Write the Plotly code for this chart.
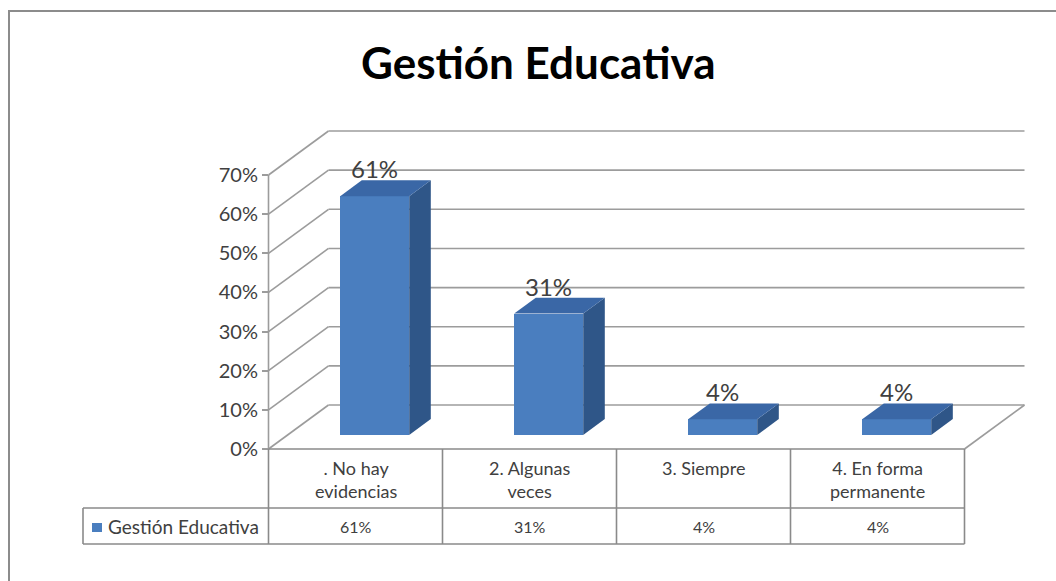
import plotly.graph_objects as go

# ---- data ----
categories = [". No hay<br>evidencias", "2. Algunas<br>veces", "3. Siempre", "4. En forma<br>permanente"]
values = [61, 31, 4, 4]
series_name = "Gestión Educativa"
title_text = "Gestión Educativa"
y_ticks = [0, 10, 20, 30, 40, 50, 60, 70]

# ---- geometry of the pseudo-3D frame ----
W, H = 1056, 581
PX_PER_CAT = 174.0      # width of one category column
X0_PX = 268.5           # left edge of the category axis
PX_PER_PCT = 3.914      # vertical pixels per percentage point
Y0_PX = 449.0           # baseline (0%) on the front plane


def xd(px):
    return (px - X0_PX) / PX_PER_CAT - 0.5


def yd(py):
    return (Y0_PX - py) / PX_PER_PCT


KX = 60.0 / PX_PER_CAT          # depth of the walls, along x
KY = 44.0 / PX_PER_PCT          # depth of the walls, along y
D0, D1 = 0.32, 0.68             # bar occupies this slice of the depth
BAR_W = 69.0 / PX_PER_CAT

XL, XR = -0.5, len(values) - 0.5

FRONT = "#4a7ebf"
SIDE = "#2f5688"
TOP = "#3a67a6"
GRID = "#9c9c9c"
TEXT = "#404040"
FONT = "Lato"

fig = go.Figure()

# front faces of the columns
bar_x = [i + D0 * KX for i in range(len(values))]
fig.add_trace(go.Bar(
    x=bar_x, y=values, base=D0 * KY, width=BAR_W,
    marker=dict(color=FRONT, line=dict(width=0)),
    showlegend=False, hoverinfo="skip",
))

# side and top faces
dd = D1 - D0
for xc, v in zip(bar_x, values):
    xl, xr = xc - BAR_W / 2, xc + BAR_W / 2
    b = D0 * KY
    t = b + v
    fig.add_trace(go.Scatter(
        x=[xr, xr + dd * KX, xr + dd * KX, xr, xr],
        y=[b, b + dd * KY, t + dd * KY, t, b],
        fill="toself", fillcolor=SIDE, mode="lines", line=dict(width=0),
        showlegend=False, hoverinfo="skip",
    ))
    fig.add_trace(go.Scatter(
        x=[xl, xr, xr + dd * KX, xl + dd * KX, xl],
        y=[t, t, t + dd * KY, t + dd * KY, t],
        fill="toself", fillcolor=TOP, mode="lines", line=dict(width=0),
        showlegend=False, hoverinfo="skip",
    ))
    fig.add_annotation(
        x=xc, y=t + dd * KY, text=f"{v}%", showarrow=False,
        yanchor="bottom", yshift=-5, font=dict(family=FONT, size=24, color=TEXT),
    )

shapes = []
grid_line = dict(color=GRID, width=1.6)

# back wall gridlines and left wall diagonals
for v in y_ticks:
    shapes.append(dict(type="line", xref="x", yref="y", layer="below",
                       x0=XL + KX, y0=v + KY, x1=XR + KX, y1=v + KY, line=grid_line))
    shapes.append(dict(type="line", xref="x", yref="y", layer="below",
                       x0=XL, y0=v, x1=XL + KX, y1=v + KY, line=grid_line))
# floor right edge
shapes.append(dict(type="line", xref="x", yref="y", layer="below",
                   x0=XR, y0=0, x1=XR + KX, y1=KY, line=grid_line))
# vertical value axis
shapes.append(dict(type="line", xref="x", yref="y", layer="below",
                   x0=XL, y0=0, x1=XL, y1=max(y_ticks), line=grid_line))

# data table
tbl = dict(color="#8a8a8a", width=1.6)
row1 = yd(508)
row2 = yd(544)
legend_left = xd(83)
shapes.append(dict(type="line", xref="x", yref="y", x0=XL, y0=0, x1=XR, y1=0, line=tbl))
shapes.append(dict(type="line", xref="x", yref="y", x0=legend_left, y0=row1, x1=XR, y1=row1, line=tbl))
shapes.append(dict(type="line", xref="x", yref="y", x0=legend_left, y0=row2, x1=XR, y1=row2, line=tbl))
shapes.append(dict(type="line", xref="x", yref="y", x0=legend_left, y0=row1, x1=legend_left, y1=row2, line=tbl))
for k in range(len(values) + 1):
    shapes.append(dict(type="line", xref="x", yref="y",
                       x0=XL + k, y0=0, x1=XL + k, y1=row2, line=tbl))
# legend key
shapes.append(dict(type="rect", xref="x", yref="y", x0=xd(92), x1=xd(102),
                   y0=yd(532), y1=yd(523), fillcolor=FRONT, line=dict(width=0)))

# outer chart border
shapes.append(dict(type="rect", xref="paper", yref="paper",
                   x0=9 / W, x1=1.05, y0=-0.05, y1=1 - 11 / H,
                   line=dict(color="#8c8c8c", width=2), fillcolor="rgba(0,0,0,0)"))

for i, cat in enumerate(categories):
    fig.add_annotation(x=i, y=yd(455), text=cat, showarrow=False, yanchor="top",
                       font=dict(family=FONT, size=18, color=TEXT))
    fig.add_annotation(x=i, y=(row1 + row2) / 2, text=f"{values[i]}%", showarrow=False,
                       yanchor="middle", font=dict(family=FONT, size=16, color=TEXT))
fig.add_annotation(x=xd(106), y=(row1 + row2) / 2, text=series_name, showarrow=False,
                   xanchor="left", yanchor="middle",
                   font=dict(family=FONT, size=19, color=TEXT))

fig.add_annotation(x=538 / W, y=1 - 62 / H, xref="paper", yref="paper",
                   text=f"<b>{title_text}</b>", showarrow=False,
                   xanchor="center", yanchor="middle",
                   font=dict(family=FONT, size=44, color="#000000"))

fig.update_layout(
    width=W, height=H, autosize=False,
    margin=dict(l=0, r=0, t=0, b=0),
    paper_bgcolor="white", plot_bgcolor="white",
    shapes=shapes, bargap=0,
    xaxis=dict(range=[xd(0), xd(W)], visible=False, domain=[0, 1], fixedrange=True),
    yaxis=dict(range=[yd(H), yd(0)], domain=[0, 1], anchor="free", position=268 / W,
               tickvals=y_ticks, ticktext=[f"{t}%" for t in y_ticks],
               ticks="outside", ticklen=6, tickcolor=GRID, tickwidth=1.6,
               tickfont=dict(family=FONT, size=20, color=TEXT),
               showgrid=False, zeroline=False, showline=False, fixedrange=True),
)

fig.write_html("out.html")
